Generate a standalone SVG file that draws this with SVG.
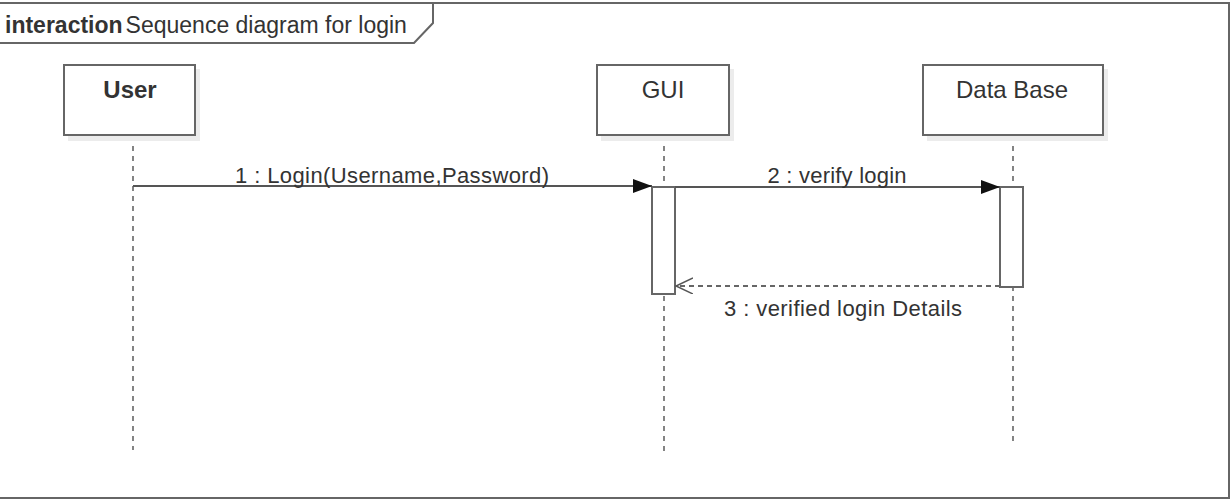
<svg xmlns="http://www.w3.org/2000/svg" width="1232" height="500" viewBox="0 0 1232 500">
<style>
text{font-family:"Liberation Sans",Arial,sans-serif;fill:#333}
.frame{fill:none;stroke:#666;stroke-width:2}
.box{fill:#fff;stroke:#666;stroke-width:2}
.shadow{fill:#ececec}
.life{stroke:#333;stroke-width:1.2;stroke-dasharray:5,5;fill:none}
.msg{stroke:#555;stroke-width:2;fill:none}
.ret{stroke:#666;stroke-width:2;stroke-dasharray:5,4;fill:none}
.act{fill:#fff;stroke:#666;stroke-width:2}
.lbl{font-size:22px;text-anchor:middle}
.name{font-size:24px;text-anchor:middle}
</style>
<defs>
<marker id="filled" markerWidth="20" markerHeight="14" refX="19" refY="7" orient="auto" markerUnits="userSpaceOnUse">
<path d="M0,0 L19,7 L0,14 Z" fill="#111"/>
</marker>
<marker id="open" markerWidth="20" markerHeight="18" refX="17" refY="8" orient="auto" markerUnits="userSpaceOnUse">
<path d="M0,0 L17,8 L0,16" fill="none" stroke="#555" stroke-width="1.5"/>
</marker>
</defs>
<rect width="1232" height="500" fill="#fff"/>
<g id="frame">
<path class="frame" d="M-2,3 H1229 V498 H-2"/>
<path class="frame" d="M-2,43 H414 L433,23 V3"/>
<text x="5" y="33" font-size="23"><tspan font-weight="bold">interaction</tspan><tspan dx="3">Sequence diagram for login</tspan></text>
</g>
<g id="lifelines">
<line class="life" x1="133" y1="136" x2="133" y2="450"/>
<line class="life" x1="664" y1="136" x2="664" y2="452"/>
<line class="life" x1="1013" y1="136" x2="1013" y2="442"/>
</g>
<g id="user">
<rect class="shadow" x="68" y="69" width="132" height="72"/>
<rect class="box" x="64" y="65" width="131" height="70"/>
<text class="name" x="130" y="98" font-weight="bold" font-size="22">User</text>
</g>
<g id="gui">
<rect class="shadow" x="601" y="69" width="133" height="72"/>
<rect class="box" x="597" y="65" width="132" height="70"/>
<text class="name" x="663" y="98">GUI</text>
</g>
<g id="database">
<rect class="shadow" x="927" y="69" width="181" height="72"/>
<rect class="box" x="923" y="65" width="180" height="70"/>
<text class="name" x="1012" y="98">Data Base</text>
</g>
<g id="activations">
<rect class="act" x="652" y="187" width="23" height="107"/>
<rect class="act" x="1000" y="187" width="23" height="100"/>
</g>
<g id="connectors">
<line class="msg" x1="133" y1="186" x2="652" y2="186" marker-end="url(#filled)"/>
<text class="lbl" x="392" y="183" textLength="314">1 : Login(Username,Password)</text>
<line class="msg" x1="675" y1="187" x2="1000" y2="187" marker-end="url(#filled)"/>
<text class="lbl" x="837" y="183" textLength="139">2 : verify login</text>
<line class="ret" x1="1000" y1="286" x2="676" y2="286" marker-end="url(#open)"/>
<text class="lbl" x="843" y="316" textLength="238">3 : verified login Details</text>
</g>
</svg>
